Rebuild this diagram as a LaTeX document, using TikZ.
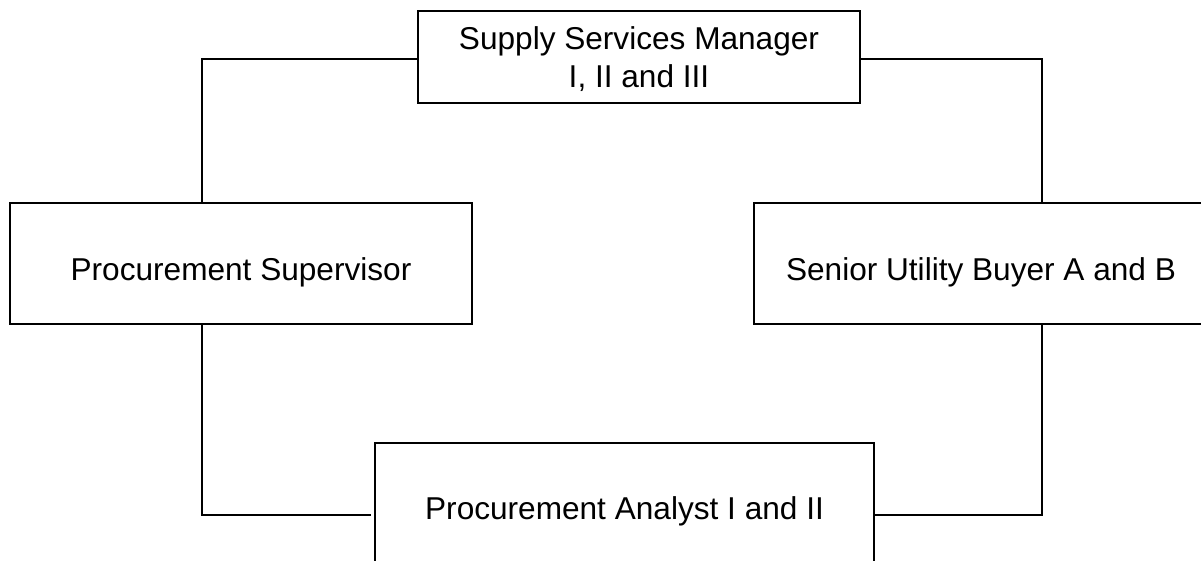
\documentclass[tikz,border=0pt]{standalone}
\usepackage{fontspec}
\setmainfont{Liberation Sans}
\begin{document}
\begin{tikzpicture}[x=1pt,y=-1pt,
  box/.style={draw=black, line width=1.5pt, rectangle, inner sep=0pt, outer sep=0pt,
    font=\fontsize{31.6}{38}\selectfont, align=center, text height=33pt, text depth=0pt},
  conn/.style={draw=black, line width=1.5pt}]
\useasboundingbox (0,0) rectangle (1201,561);
\node[box, minimum width=442pt, minimum height=92pt, text height=62pt, text depth=0pt] (top) at (639,57) {Supply Services Manager\\I, II and III};
\node[box, minimum width=462pt, minimum height=121pt] (left) at (241,263.5) {Procurement Supervisor};
\node[box, minimum width=454pt, minimum height=121pt] (right) at (981,263.5) {Senior Utility Buyer A and B};
\node[box, minimum width=499pt, minimum height=120pt] (bottom) at (624.5,503) {Procurement Analyst I and II};
\coordinate (tl) at ([yshift=-2pt]top.west);
\coordinate (tr) at ([yshift=-2pt]top.east);
\coordinate (bl) at ([xshift=-4pt,yshift=-12pt]bottom.west);
\coordinate (br) at ([yshift=-12pt]bottom.east);
\draw[conn] (tl) -| ([xshift=-39pt]left.north);
\draw[conn] (tr) -| ([xshift=61pt]right.north);
\draw[conn] ([xshift=-39pt]left.south) |- (bl);
\draw[conn] ([xshift=61pt]right.south) |- (br);
\end{tikzpicture}
\end{document}
